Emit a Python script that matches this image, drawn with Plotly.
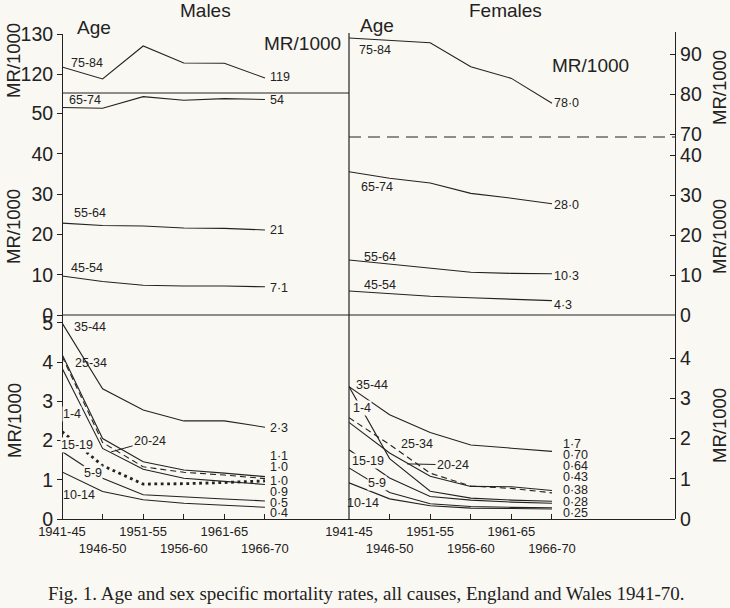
import plotly.graph_objects as go

W, H = 730, 608
INK = "#222222"
BG = "#faf8f3"
FONT = "Liberation Sans, Arial, sans-serif"

# ---------------- data ----------------
periods = ["1941-45", "1946-50", "1951-55", "1956-60", "1961-65", "1966-70"]
tick_text = ["1941-45", "<br>1946-50", "1951-55", "<br>1956-60", "1961-65", "<br>1966-70"]
xi = list(range(len(periods)))

# Males (MR/1000)
m_75_84 = [121.75, 118.75, 127.0, 122.75, 122.7, 119.0]
m_65_74 = [51.5, 51.3, 54.2, 53.3, 53.7, 53.5]
m_55_64 = [22.8, 22.2, 22.1, 21.6, 21.5, 21.1]
m_45_54 = [9.7, 8.3, 7.4, 7.2, 7.2, 7.0]
m_35_44 = [5.0, 3.32, 2.78, 2.5, 2.5, 2.34]
m_25_34 = [4.2, 2.05, 1.46, 1.25, 1.17, 1.08]
m_20_24 = [4.15, 1.95, 1.33, 1.19, 1.12, 1.03]
m_1_4 = [3.85, 1.8, 1.27, 1.04, 0.96, 0.88]
m_15_19 = [2.23, 1.36, 0.89, 0.9, 0.93, 0.97]
m_5_9 = [1.72, 1.04, 0.62, 0.56, 0.51, 0.46]
m_10_14 = [1.2, 0.7, 0.49, 0.4, 0.35, 0.3]

# Females (MR/1000)
f_75_84 = [94.0, 93.4, 92.8, 86.8, 83.9, 77.7]
f_65_74 = [35.8, 34.2, 33.0, 30.4, 29.2, 27.8]
f_55_64 = [13.75, 12.7, 11.7, 10.7, 10.4, 10.3]
f_45_54 = [6.0, 5.3, 4.7, 4.3, 4.0, 3.6]
f_35_44 = [3.29, 2.59, 2.15, 1.84, 1.76, 1.68]
f_1_4 = [3.29, 1.5, 0.69, 0.52, 0.47, 0.44]
f_25_34 = [2.4, 1.64, 1.06, 0.81, 0.8, 0.71]
f_20_24 = [2.52, 1.85, 1.14, 0.82, 0.76, 0.65]
f_15_19 = [1.72, 1.02, 0.56, 0.47, 0.42, 0.39]
f_5_9 = [1.27, 0.66, 0.38, 0.31, 0.29, 0.28]
f_10_14 = [0.9, 0.5, 0.33, 0.27, 0.26, 0.25]

# end-of-line value labels
m_top_end = ["119"]
m_mid_end = ["54", "21", "7·1"]
m_low_end = ["2·3", "1·1", "1·0", "1·0", "0·9", "0·5", "0·4"]
f_top_end = ["78·0"]
f_mid_end = ["28·0", "10·3", "4·3"]
f_low_end = ["1·7", "0·70", "0·64", "0·43", "0·38", "0·28", "0·25"]


# ---------------- layout helpers ----------------
def px(x):
    return x / W


def py(y):
    return 1 - y / H


fig = go.Figure()

SOLID = dict(color=INK, width=1.1)
DASHED = dict(color=INK, width=1.1, dash="6px,4px")
DOTTED = dict(color=INK, width=2.8, dash="2.8px,3.6px")

series = [
    ("x", "y3", m_75_84, SOLID),
    ("x", "y2", m_65_74, SOLID),
    ("x", "y2", m_55_64, SOLID),
    ("x", "y2", m_45_54, SOLID),
    ("x", "y", m_35_44, SOLID),
    ("x", "y", m_25_34, SOLID),
    ("x", "y", m_20_24, DASHED),
    ("x", "y", m_1_4, SOLID),
    ("x", "y", m_15_19, DOTTED),
    ("x", "y", m_5_9, SOLID),
    ("x", "y", m_10_14, SOLID),
    ("x2", "y6", f_75_84, SOLID),
    ("x2", "y5", f_65_74, SOLID),
    ("x2", "y5", f_55_64, SOLID),
    ("x2", "y5", f_45_54, SOLID),
    ("x2", "y4", f_35_44, SOLID),
    ("x2", "y4", f_1_4, SOLID),
    ("x2", "y4", f_25_34, SOLID),
    ("x2", "y4", f_20_24, DASHED),
    ("x2", "y4", f_15_19, SOLID),
    ("x2", "y4", f_5_9, SOLID),
    ("x2", "y4", f_10_14, SOLID),
]
for xa, ya, vals, ln in series:
    fig.add_trace(go.Scatter(x=xi, y=vals, xaxis=xa, yaxis=ya, mode="lines",
                             line=ln, showlegend=False, hoverinfo="skip"))

TICKFONT = dict(family=FONT, size=19.5, color=INK)
XFONT = dict(family=FONT, size=13, color=INK)

yl = dict(showline=True, linecolor=INK, linewidth=1.2, ticks="outside", ticklen=5,
          tickcolor=INK, tickfont=TICKFONT, showgrid=False, zeroline=False,
          anchor="free", position=px(62), automargin=False)
yr = dict(showline=True, linecolor=INK, linewidth=1.2, ticks="inside", ticklen=5,
          tickcolor=INK, tickfont=TICKFONT, showgrid=False, zeroline=False,
          anchor="free", position=px(675), side="right", automargin=False)
xcommon = dict(showline=True, linecolor=INK, linewidth=1.2, ticks="inside", ticklen=5,
               tickcolor=INK, tickfont=XFONT, showgrid=False, zeroline=False,
               tickmode="array", tickvals=xi, ticktext=tick_text, tickangle=0,
               automargin=False)

fig.update_layout(
    width=W, height=H, autosize=False,
    margin=dict(l=0, r=0, t=0, b=0, pad=0, autoexpand=False),
    paper_bgcolor=BG, plot_bgcolor=BG,
    font=dict(family=FONT, color=INK),
    showlegend=False,
    xaxis=dict(xcommon, domain=[px(62), px(349)], range=[0, 7.07], anchor="y"),
    xaxis2=dict(xcommon, domain=[px(349), px(675)], range=[0, 8.03], anchor="y4"),
    yaxis=dict(yl, domain=[py(519), py(315)], range=[0, 5.2], tickvals=[0, 1, 2, 3, 4, 5]),
    yaxis2=dict(yl, domain=[py(315), py(93)], range=[0, 55.1], tickvals=[0, 10, 20, 30, 40, 50]),
    yaxis3=dict(yl, domain=[py(93), py(34)], range=[115.25, 130], tickvals=[120, 130]),
    yaxis4=dict(yr, domain=[py(519), py(315)], range=[0, 5.07], tickvals=[0, 1, 2, 3, 4]),
    yaxis5=dict(yr, domain=[py(315), py(137)], range=[0, 44.5], tickvals=[0, 10, 20, 30, 40]),
    yaxis6=dict(yr, domain=[py(137), py(32)], range=[69.25, 95.5], tickvals=[70, 80, 90]),
)

# ---------------- frame lines ----------------
shapes = [
    dict(type="line", xref="x domain", yref="y2 domain", x0=0, x1=1, y0=1, y1=1,
         line=dict(color=INK, width=1.2)),
    dict(type="line", xref="x domain", yref="y domain", x0=0, x1=1, y0=1, y1=1,
         line=dict(color=INK, width=1.2)),
    dict(type="line", xref="x2 domain", yref="y4 domain", x0=0, x1=1, y0=1, y1=1,
         line=dict(color=INK, width=1.2)),
    dict(type="line", xref="x2 domain", yref="y5 domain", x0=0, x1=1, y0=1, y1=1,
         line=dict(color=INK, width=1, dash="12px,7px")),
    dict(type="line", xref="x2 domain", yref="paper", x0=0, x1=0, y0=py(519), y1=py(33),
         line=dict(color=INK, width=1.2)),
]
fig.update_layout(shapes=shapes)

ann = []
LBL = dict(family=FONT, size=12.5, color=INK)


def lab(text, x, y, xref, yref, xanchor="center", bg=None):
    d = dict(text=text, x=x, y=y, xref=xref, yref=yref, showarrow=False,
             xanchor=xanchor, yanchor="middle", font=LBL, borderpad=0)
    if bg:
        d["bgcolor"] = bg
    ann.append(d)


# male age labels
lab("75-84", 0.62, 122.75, "x", "y3")
lab("65-74", 0.57, 53.3, "x", "y2")
lab("55-64", 0.69, 25.3, "x", "y2")
lab("45-54", 0.62, 11.7, "x", "y2")
lab("35-44", 0.69, 4.9, "x", "y")
lab("25-34", 0.71, 3.98, "x", "y")
lab("1-4", 0.25, 2.68, "x", "y", bg=BG)
lab("15-19", 0.37, 1.89, "x", "y", bg=BG)
lab("5-9", 0.76, 1.17, "x", "y", bg=BG)
lab("10-14", 0.42, 0.61, "x", "y")
ann.append(dict(text="20-24", x=1.21, y=1.71, xref="x", yref="y", showarrow=True,
                arrowhead=0, arrowwidth=1, arrowcolor=INK, ax=39, ay=-11,
                font=LBL, standoff=0))

# male end labels
lab(m_top_end[0], 5.1, 119.25, "x", "y3", "left")
for t, v in zip(m_mid_end, [53.3, 21.1, 6.7]):
    lab(t, 5.1, v, "x", "y2", "left")
for t, v in zip(m_low_end, [2.32, 1.61, 1.33, 0.97, 0.69, 0.41, 0.15]):
    lab(t, 5.1, v, "x", "y", "left")

# female age labels
lab("75-84", 0.64, 91.0, "x2", "y6")
lab("65-74", 0.69, 32.0, "x2", "y5")
lab("55-64", 0.76, 14.5, "x2", "y5")
lab("45-54", 0.76, 7.5, "x2", "y5")
lab("35-44", 0.57, 3.33, "x2", "y4")
lab("1-4", 0.32, 2.76, "x2", "y4", bg=BG)
lab("25-34", 1.67, 1.86, "x2", "y4")
lab("15-19", 0.47, 1.44, "x2", "y4", bg=BG)
lab("5-9", 0.69, 0.89, "x2", "y4", bg=BG)
lab("10-14", 0.34, 0.40, "x2", "y4")
ann.append(dict(text="20-24", x=1.43, y=1.37, xref="x2", yref="y4", showarrow=True,
                arrowhead=0, arrowwidth=1, arrowcolor=INK, ax=46, ay=1,
                font=LBL, standoff=0))

# female end labels
lab(f_top_end[0], 5.02, 77.75, "x2", "y6", "left")
for t, v in zip(f_mid_end, [27.5, 9.75, 2.5]):
    lab(t, 5.02, v, "x2", "y5", "left")
for t, v in zip(f_low_end, [1.86, 1.59, 1.32, 1.04, 0.72, 0.42, 0.15]):
    lab(t, 5.25, v, "x2", "y4", "left")

BIG = dict(family=FONT, size=19, color=INK)


def ptxt(text, x, y, angle=0, font=BIG):
    ann.append(dict(text=text, x=px(x), y=py(y), xref="paper", yref="paper",
                    showarrow=False, xanchor="center", yanchor="middle",
                    textangle=angle, font=font))


ptxt("Males", 205, 11)
ptxt("Females", 505, 11)
ptxt("Age", 94, 27)
ptxt("Age", 377, 25)
ptxt("MR/1000", 302, 43)
ptxt("MR/1000", 590, 65)
RFONT = dict(family=FONT, size=18.5, color=INK)
for yy in (61, 227, 421):
    ptxt("MR/1000", 14, yy, -90, RFONT)
for yy in (88, 237, 426):
    ptxt("MR/1000", 719, yy, -90, RFONT)
ptxt("Fig. 1. Age and sex specific mortality rates, all causes, England and Wales 1941-70.",
     366, 593, font=dict(family="Liberation Serif, Times New Roman, serif", size=19, color=INK))

fig.update_layout(annotations=ann)
fig.write_html("out.html", config={"displayModeBar": False, "staticPlot": True},
               post_script="document.body.style.margin='0';document.body.style.overflow='hidden';")
